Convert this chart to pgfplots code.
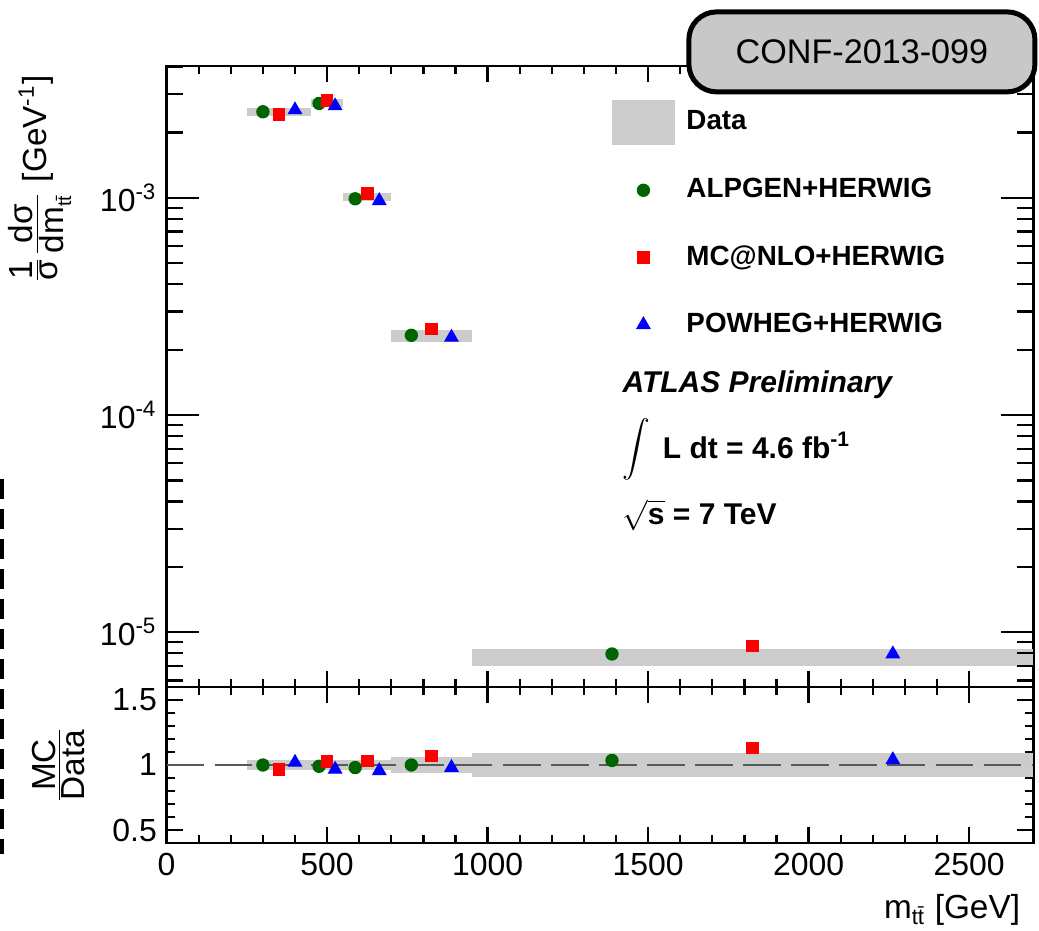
\documentclass[border=0pt]{standalone}
\usepackage{pgfplots}
\pgfplotsset{compat=1.18}
\usepackage{fontspec}
\setmainfont{Liberation Sans}

\definecolor{atlasgreen}{RGB}{0,100,0}
\definecolor{bandgray}{RGB}{204,204,204}
\definecolor{confgray}{RGB}{200,200,200}

\pgfplotsset{
  atlasframe/.style={
    scale only axis,
    width=312pt,
    xmin=0, xmax=2700,
    xtick={0,500,1000,1500,2000,2500},
    minor x tick num=4,
    tick align=inside,
    major tick length=5.8pt,
    minor tick length=2.9pt,
    axis line style={line width=0.9pt},
    tick style={black, line width=0.8pt},
    tick label style={font=\fontsize{11.5}{13}\selectfont},
    label style={font=\fontsize{12}{14}\selectfont},
    /pgf/number format/assume math mode=true,
    /pgf/number format/1000 sep={},
  },
  alpgen/.style={only marks, mark=*, mark size=2.2pt, color=atlasgreen},
  mcatnlo/.style={only marks, mark=square*, mark size=2.1pt, color=red},
  powheg/.style={only marks, mark=triangle*, mark size=2.7pt, color=blue},
  databand/.style={fill=bandgray, draw=none, forget plot},
}

\begin{document}
\begin{tikzpicture}
\useasboundingbox (-59.98pt,-31.32pt) rectangle (314.06pt,303.48pt);

% upper panel: normalised cross section
\begin{axis}[atlasframe,
  at={(0pt,56.16pt)}, anchor=south west,
  height=223.6pt,
  ymode=log, ymin=5.6e-6, ymax=4.05e-3,
  ytick={1e-5,1e-4,1e-3},
  minor ytick={6e-6,7e-6,8e-6,9e-6,2e-5,3e-5,4e-5,5e-5,6e-5,7e-5,8e-5,9e-5,2e-4,3e-4,4e-4,5e-4,6e-4,7e-4,8e-4,9e-4,2e-3,3e-3,4e-3},
  xticklabels={},
  yticklabels={10\textsuperscript{-5},10\textsuperscript{-4},10\textsuperscript{-3}},
  ylabel={$\frac{\mbox{1}}{\mbox{σ}}\frac{\mbox{dσ}}{\mbox{dm}_{\mbox{\fontsize{7}{7}\selectfont t\=t}}}$ [GeV\textsuperscript{-1}]},
  ylabel style={at={(axis description cs:-0.146,1.0)}, anchor=east},
  legend style={draw=none, fill=none, inner xsep=0pt, inner ysep=0pt,
    at={(axis description cs:0.513,0.946)}, anchor=north west,
    font=\fontsize{10}{12}\selectfont\bfseries,
    row sep=8.4pt, column sep=2.1pt},
  legend cell align=left,
  legend image code/.code={
    \path[draw=none, fill=none] (0pt,-7.9pt) rectangle (22.4pt,7.9pt);
    \draw[mark repeat=2,mark phase=2,#1] plot coordinates {(0pt,0pt) (11.2pt,0pt) (22.4pt,0pt)};},
]
% data bands (central value +- total uncertainty)
\addplot[databand] coordinates {(250,2.39e-3) (450,2.39e-3) (450,2.59e-3) (250,2.59e-3)} -- cycle;
\addplot[databand] coordinates {(450,2.63e-3) (550,2.63e-3) (550,2.85e-3) (450,2.85e-3)} -- cycle;
\addplot[databand] coordinates {(550,0.97e-3) (700,0.97e-3) (700,1.05e-3) (550,1.05e-3)} -- cycle;
\addplot[databand] coordinates {(700,2.17e-4) (950,2.17e-4) (950,2.47e-4) (700,2.47e-4)} -- cycle;
\addplot[databand] coordinates {(950,6.98e-6) (2700,6.98e-6) (2700,8.36e-6) (950,8.36e-6)} -- cycle;
\addlegendimage{legend image code/.code={\fill[bandgray] (0pt,-7.9pt) rectangle (22.4pt,7.9pt);}}
\addlegendentry{Data}

\addplot[alpgen] coordinates {(300,2.49e-3) (475,2.72e-3) (587.5,0.99e-3) (762.5,2.33e-4) (1387.5,7.95e-6)};
\addlegendentry{ALPGEN+HERWIG}
\addplot[mcatnlo] coordinates {(350,2.41e-3) (500,2.81e-3) (625,1.05e-3) (825,2.49e-4) (1825,8.65e-6)};
\addlegendentry{MC@NLO+HERWIG}
\addplot[powheg] coordinates {(400,2.54e-3) (525,2.65e-3) (662.5,0.97e-3) (887.5,2.28e-4) (2262.5,7.95e-6)};
\addlegendentry{POWHEG+HERWIG}

\node[anchor=base west, inner sep=0pt, font=\fontsize{10.8}{13}\selectfont\bfseries\itshape]
  at (axis description cs:0.5255,0.4734) {ATLAS Preliminary};
\node[anchor=base west, inner sep=0pt, font=\fontsize{10.8}{13}\selectfont\bfseries]
  at (axis description cs:0.5255,0.3687)
  {\raisebox{0pt}{\fontsize{11.5}{12}\selectfont$\displaystyle\int$}\hspace{4.5pt}L dt = 4.6 fb\textsuperscript{-1}};
\node[anchor=base west, inner sep=0pt, font=\fontsize{10.8}{13}\selectfont\bfseries]
  at (axis description cs:0.5255,0.2609) {$\sqrt{\mbox{s}}$ = 7 TeV};
\end{axis}

% longer log ticks on the left and right of the upper panel
\begin{axis}[atlasframe,
  at={(0pt,56.16pt)}, anchor=south west,
  height=223.6pt,
  ymode=log, ymin=5.6e-6, ymax=4.05e-3,
  ytick={1e-5,1e-4,1e-3},
  minor ytick={6e-6,7e-6,8e-6,9e-6,2e-5,3e-5,4e-5,5e-5,6e-5,7e-5,8e-5,9e-5,2e-4,3e-4,4e-4,5e-4,6e-4,7e-4,8e-4,9e-4,2e-3,3e-3,4e-3},
  axis line style={draw=none},
  xtick=\empty, yticklabels={},
  major tick length=11.5pt,
  minor tick length=5.8pt,
]
\end{axis}

% lower panel: MC / data
\begin{axis}[atlasframe,
  at={(0pt,0pt)}, anchor=south west,
  height=56.16pt,
  ymin=0.4, ymax=1.6,
  ytick={0.5,1,1.5},
  yticklabels={0.5,1,1.5},
  minor y tick num=4,
  ylabel={$\frac{\mbox{MC}}{\mbox{Data}}$},
  ylabel style={at={(axis description cs:-0.125,0.5)}, anchor=center},
  xlabel={m\textsubscript{t\=t} [GeV]},
  xlabel style={at={(axis description cs:0.996,-0.481)}, anchor=base east},
]
\addplot[databand] coordinates {(250,0.96) (450,0.96) (450,1.04) (250,1.04)} -- cycle;
\addplot[databand] coordinates {(450,0.96) (550,0.96) (550,1.04) (450,1.04)} -- cycle;
\addplot[databand] coordinates {(550,0.96) (700,0.96) (700,1.04) (550,1.04)} -- cycle;
\addplot[databand] coordinates {(700,0.935) (950,0.935) (950,1.065) (700,1.065)} -- cycle;
\addplot[databand] coordinates {(950,0.91) (2700,0.91) (2700,1.09) (950,1.09)} -- cycle;
\addplot[forget plot, color=black!65, line width=1pt, dash pattern=on 13.5pt off 3.8pt]
  coordinates {(0,1) (2700,1)};

\addplot[alpgen] coordinates {(300,1.00) (475,0.99) (587.5,0.98) (762.5,1.00) (1387.5,1.035)};
\addplot[mcatnlo] coordinates {(350,0.967) (500,1.025) (625,1.03) (825,1.07) (1825,1.13)};
\addplot[powheg] coordinates {(400,1.02) (525,0.967) (662.5,0.956) (887.5,0.98) (2262.5,1.04)};
\end{axis}

\node[draw=black, line width=1.8pt, fill=confgray, rounded corners=10pt,
  minimum width=124.6pt, minimum height=28.8pt, inner sep=0pt,
  font=\fontsize{12.3}{14}\selectfont] at (250.3pt,284.8pt) {CONF-2013-099};

\draw[line width=1.8pt, dash pattern=on 7.2pt off 3.6pt] (-59.3pt,131pt) -- (-59.3pt,-4pt);
\end{tikzpicture}
\end{document}
